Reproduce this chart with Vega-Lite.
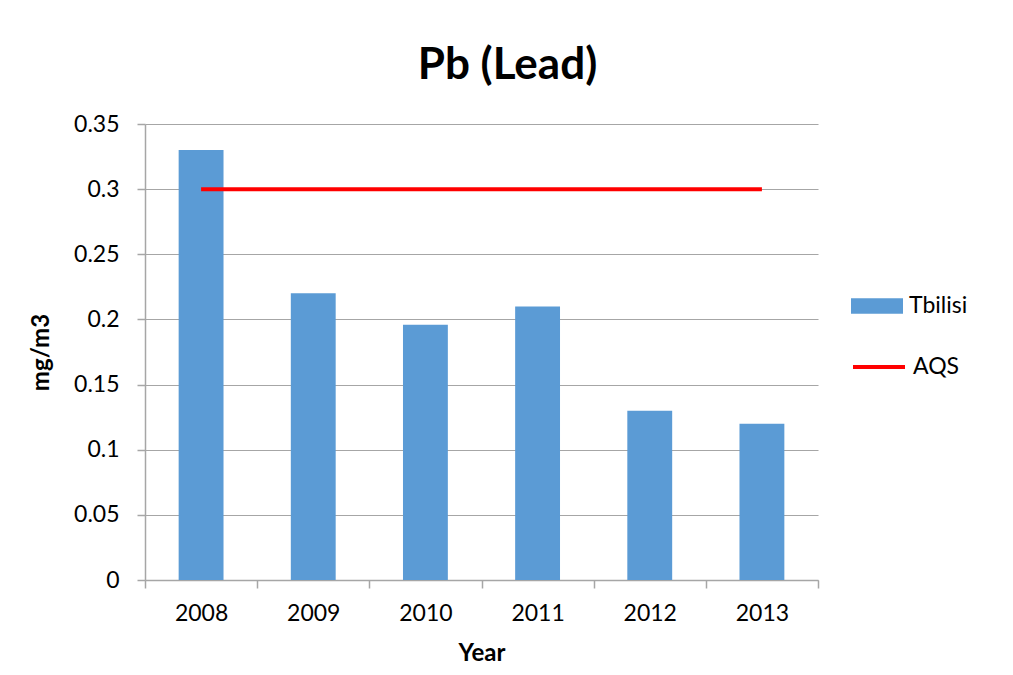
{
  "$schema": "https://vega.github.io/schema/vega-lite/v6.json",
  "autosize": {"type": "none"},
  "padding": {"left": 145, "top": 124, "right": 195, "bottom": 95},
  "width": 673,
  "height": 456,
  "background": "white",
  "title": {
    "text": "Pb (Lead)",
    "font": "Lato",
    "fontSize": 44,
    "fontWeight": "bold",
    "color": "black",
    "anchor": "middle",
    "dx": 26,
    "offset": 25
  },
  "data": {
    "values": [
      {"year": "2008", "value": 0.33, "aqs": 0.3},
      {"year": "2009", "value": 0.22, "aqs": 0.3},
      {"year": "2010", "value": 0.196, "aqs": 0.3},
      {"year": "2011", "value": 0.21, "aqs": 0.3},
      {"year": "2012", "value": 0.13, "aqs": 0.3},
      {"year": "2013", "value": 0.12, "aqs": 0.3}
    ]
  },
  "encoding": {
    "x": {
      "field": "year",
      "type": "nominal",
      "scale": {"paddingInner": 0, "paddingOuter": 0},
      "axis": {
        "title": "Year",
        "labelAngle": 0,
        "tickBand": "extent",
        "grid": false,
        "tickSize": 8,
        "labelPadding": 14,
        "titlePadding": 16
      }
    }
  },
  "layer": [
    {
      "mark": {"type": "bar", "width": {"band": 0.4}},
      "encoding": {
        "y": {
          "field": "value",
          "type": "quantitative",
          "scale": {"domain": [0, 0.35]},
          "axis": {
            "title": "mg/m3",
            "values": [0, 0.05, 0.1, 0.15, 0.2, 0.25, 0.3, 0.35],
            "format": ".2~f",
            "tickSize": 8,
            "labelPadding": 18,
            "titlePadding": 20
          }
        },
        "fill": {
          "datum": "Tbilisi",
          "scale": {"domain": ["Tbilisi"], "range": ["#5B9BD5"]},
          "legend": {
            "title": null,
            "orient": "none",
            "legendX": 706,
            "legendY": 156,
            "symbolType": "M-1,-0.3H1V0.3H-1Z",
            "symbolSize": 2704,
            "symbolStrokeWidth": 0
          }
        }
      }
    },
    {
      "mark": {"type": "line", "strokeWidth": 4},
      "encoding": {
        "y": {"field": "aqs", "type": "quantitative"},
        "stroke": {
          "datum": "AQS",
          "scale": {"domain": ["AQS"], "range": ["#FF0000"]},
          "legend": {
            "title": null,
            "orient": "none",
            "legendX": 706,
            "legendY": 215,
            "symbolType": "stroke",
            "symbolSize": 2704,
            "symbolStrokeWidth": 4
          }
        }
      }
    }
  ],
  "config": {
    "view": {"stroke": null},
    "font": "Lato",
    "axis": {
      "labelFont": "Lato",
      "labelFontSize": 23,
      "labelColor": "black",
      "titleFont": "Lato",
      "titleFontSize": 24,
      "titleFontWeight": "bold",
      "titleColor": "black",
      "domainColor": "#A6A6A6",
      "tickColor": "#A6A6A6",
      "gridColor": "#A6A6A6",
      "domainWidth": 1.5,
      "tickWidth": 1.5,
      "gridWidth": 1.2
    },
    "legend": {
      "labelFont": "Lato",
      "labelFontSize": 23,
      "labelColor": "black",
      "labelOffset": 6
    }
  }
}
